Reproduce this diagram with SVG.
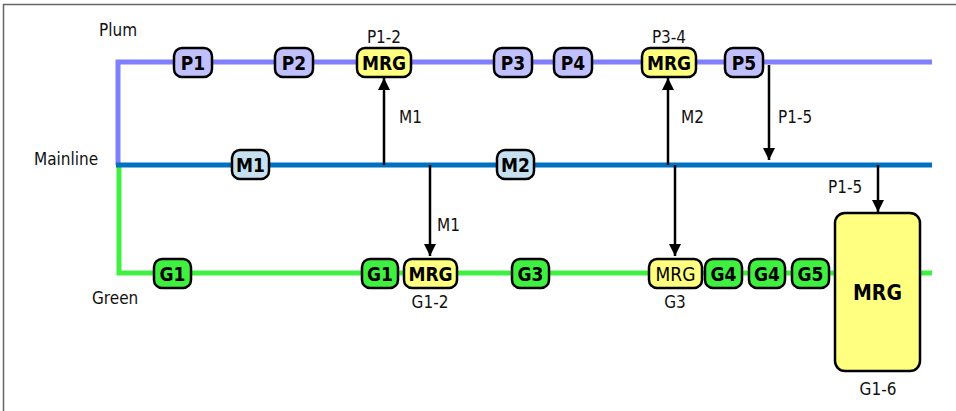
<svg xmlns="http://www.w3.org/2000/svg" width="956" height="411" viewBox="0 0 956 411">
<defs>
<marker id="ah" viewBox="0 0 12 12" refX="12" refY="6" markerWidth="12" markerHeight="12" markerUnits="userSpaceOnUse" orient="auto">
<path d="M0,0 L12,6 L0,12 Z" fill="#000"/>
</marker>
</defs>
<style>
.lbl{font-family:"DejaVu Sans Condensed","Liberation Sans Narrow","Liberation Sans",sans-serif;font-stretch:condensed;font-size:17px;fill:#111}
.nt{font-family:"DejaVu Sans Condensed","Liberation Sans Narrow","Liberation Sans",sans-serif;font-stretch:condensed;font-size:19px;font-weight:bold;fill:#000;text-anchor:middle;dominant-baseline:central}
.box{stroke:#000;stroke-width:2.5}
.p{fill:#c0c0ff}
.m{fill:#c6e0f0}
.g{fill:#40f040}
.y{fill:#ffff80}
.arr{stroke:#000;stroke-width:2.5;fill:none;marker-end:url(#ah)}
</style>
<rect x="3.5" y="4.5" width="970" height="430" fill="#fff" stroke="#666" stroke-width="1.5"/>
<g id="lines">
<polyline points="932,62 118,62 118,165" fill="none" stroke="#8080ff" stroke-width="5"/>
<polyline points="119,165 119,273 932,273" fill="none" stroke="#40f040" stroke-width="5"/>
<line x1="116" y1="165" x2="932" y2="165" stroke="#0070c0" stroke-width="5"/>
</g>
<g id="labels">
<text class="lbl" x="99" y="36">Plum</text>
<text class="lbl" x="34" y="165">Mainline</text>
<text class="lbl" x="92" y="304">Green</text>
<text class="lbl" x="384" y="43" text-anchor="middle">P1-2</text>
<text class="lbl" x="669" y="43" text-anchor="middle">P3-4</text>
<text class="lbl" x="430" y="308" text-anchor="middle">G1-2</text>
<text class="lbl" x="675" y="308" text-anchor="middle">G3</text>
<text class="lbl" x="878" y="395" text-anchor="middle">G1-6</text>
</g>
<g id="connectors">
<line class="arr" x1="384" y1="165" x2="384" y2="78"/>
<text class="lbl" x="399" y="123">M1</text>
<line class="arr" x1="430" y1="165" x2="430" y2="256"/>
<text class="lbl" x="437" y="231">M1</text>
<line class="arr" x1="668" y1="165" x2="668" y2="78"/>
<text class="lbl" x="681" y="123">M2</text>
<line class="arr" x1="675" y1="165" x2="675" y2="256"/>
<line class="arr" x1="769" y1="65" x2="769" y2="160"/>
<text class="lbl" x="778" y="123">P1-5</text>
<line class="arr" x1="878" y1="165" x2="878" y2="212"/>
<text class="lbl" x="828" y="193">P1-5</text>
</g>
<g id="P1"><rect class="box p" x="174" y="48" width="38" height="29" rx="8"/><text class="nt" x="193" y="62.5">P1</text></g>
<g id="P2"><rect class="box p" x="275" y="48" width="38" height="29" rx="8"/><text class="nt" x="294" y="62.5">P2</text></g>
<g id="MRG-P1-2"><rect class="box y" x="357" y="48" width="54" height="29" rx="8"/><text class="nt" x="384" y="62.5">MRG</text></g>
<g id="P3"><rect class="box p" x="494" y="48" width="38" height="29" rx="8"/><text class="nt" x="513" y="62.5">P3</text></g>
<g id="P4"><rect class="box p" x="554" y="48" width="38" height="29" rx="8"/><text class="nt" x="573" y="62.5">P4</text></g>
<g id="MRG-P3-4"><rect class="box y" x="642" y="48" width="54" height="29" rx="8"/><text class="nt" x="669" y="62.5">MRG</text></g>
<g id="P5"><rect class="box p" x="725" y="48" width="38" height="29" rx="8"/><text class="nt" x="744" y="62.5">P5</text></g>
<g id="M1"><rect class="box m" x="232" y="150" width="37" height="29" rx="8"/><text class="nt" x="250.5" y="164.5">M1</text></g>
<g id="M2"><rect class="box m" x="497" y="150" width="37" height="29" rx="8"/><text class="nt" x="515.5" y="164.5">M2</text></g>
<g id="G1a"><rect class="box g" x="154" y="259" width="37" height="29" rx="8"/><text class="nt" x="172.5" y="273.5">G1</text></g>
<g id="G1b"><rect class="box g" x="362" y="259" width="36" height="29" rx="8"/><text class="nt" x="380" y="273.5">G1</text></g>
<g id="MRG-G1-2"><rect class="box y" x="404" y="259" width="53" height="29" rx="8"/><text class="nt" x="430.5" y="273.5">MRG</text></g>
<g id="G3"><rect class="box g" x="512" y="259" width="37" height="29" rx="8"/><text class="nt" x="530.5" y="273.5">G3</text></g>
<g id="MRG-G3"><rect class="box y" x="649" y="259" width="53" height="29" rx="8"/><text class="nt" x="675.5" y="273.5" style="font-weight:normal">MRG</text></g>
<g id="G4a"><rect class="box g" x="705" y="259" width="37" height="29" rx="8"/><text class="nt" x="723.5" y="273.5">G4</text></g>
<g id="G4b"><rect class="box g" x="749" y="259" width="36" height="29" rx="8"/><text class="nt" x="767" y="273.5">G4</text></g>
<g id="G5"><rect class="box g" x="792" y="259" width="37" height="29" rx="8"/><text class="nt" x="810.5" y="273.5">G5</text></g>
<g id="MRG-G1-6"><rect class="box y" x="835" y="213" width="85" height="158" rx="10"/><text class="nt" x="877.5" y="293" style="font-size:21px">MRG</text></g>
</svg>
